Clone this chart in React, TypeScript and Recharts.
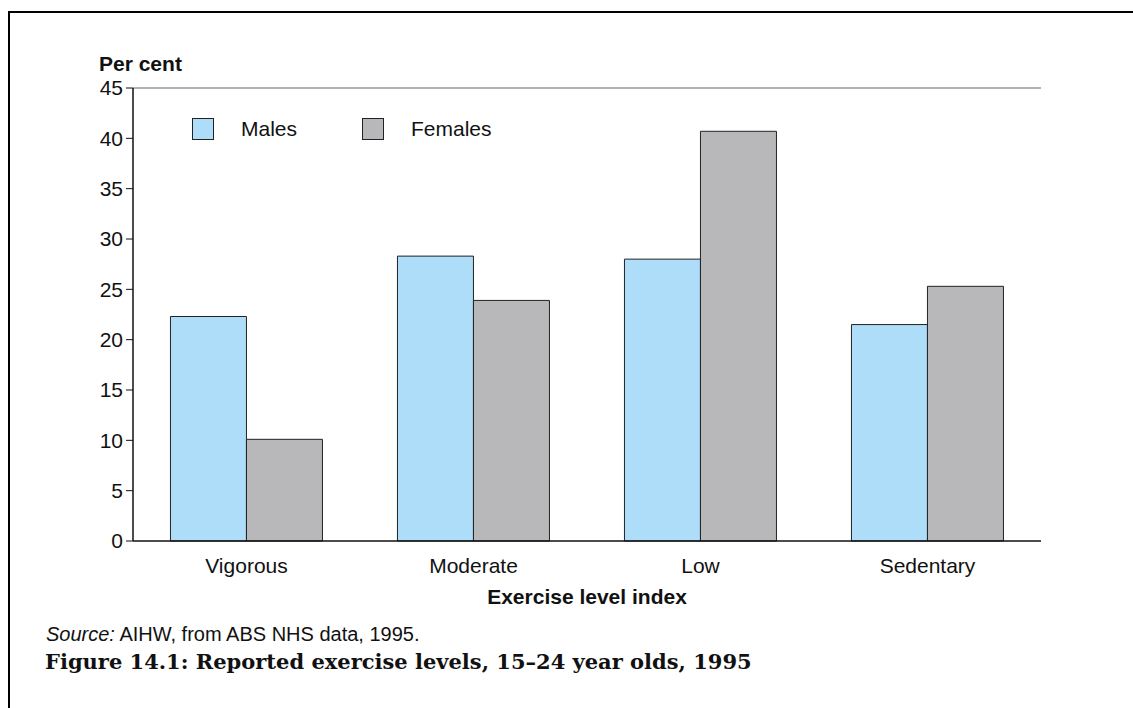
import React from "react";
import { BarChart, Bar, XAxis, YAxis, ReferenceLine } from "recharts";

const categories = ["Vigorous", "Moderate", "Low", "Sedentary"];
const males = [22.3, 28.3, 28.0, 21.5];
const females = [10.1, 23.9, 40.7, 25.3];
const yTicks = [0, 5, 10, 15, 20, 25, 30, 35, 40, 45];
const seriesNames = ["Males", "Females"];
const seriesColors = ["#AEDDF9", "#B8B8BA"];

const data = categories.map((c, i) => ({ name: c, Males: males[i], Females: females[i] }));

const SANS = "'Liberation Sans', Arial, sans-serif";

export default function App() {
  return (
    <div style={{ position: "absolute", left: 0, top: 0, width: 1133, height: 708, background: "#fff", overflow: "hidden" }}>
      <div style={{ position: "absolute", left: 8, top: 11, width: 1125, height: 697, borderLeft: "2px solid #000", borderTop: "2px solid #000" }} />
      <BarChart
        width={1133}
        height={708}
        data={data}
        margin={{ top: 88, right: 92, bottom: 137, left: 73 }}
        barCategoryGap="16.5%"
        barGap={0}
      >
        <XAxis
          dataKey="name"
          height={30}
          tickLine={false}
          axisLine={{ stroke: "#111", strokeWidth: 1.5 }}
          tick={{ fontFamily: SANS, fontSize: 21, fill: "#111" }}
          tickMargin={11}
        />
        <YAxis
          width={60}
          domain={[0, 45]}
          ticks={yTicks}
          interval={0}
          axisLine={{ stroke: "#111", strokeWidth: 1.5 }}
          tickLine={{ stroke: "#111" }}
          tickSize={7}
          tickMargin={3}
          tick={{ fontFamily: SANS, fontSize: 21, fill: "#111" }}
        />
        <YAxis
          yAxisId="r"
          orientation="right"
          width={0}
          domain={[0, 45]}
          tick={false}
          tickLine={false}
          axisLine={{ stroke: "#444", strokeWidth: 1.5 }}
        />
        <ReferenceLine y={45} stroke="#999" strokeWidth={1.5} />
        <Bar dataKey="Males" fill={seriesColors[0]} stroke="#222" strokeWidth={1} isAnimationActive={false} />
        <Bar dataKey="Females" fill={seriesColors[1]} stroke="#222" strokeWidth={1} isAnimationActive={false} />
      </BarChart>
      <div style={{ position: "absolute", left: 192, top: 118, fontFamily: SANS, fontSize: 21, color: "#111" }}>
        {seriesNames.map((n, i) => (
          <div key={n} style={{ position: "absolute", left: i * 170, top: 0, display: "flex", alignItems: "center", height: 22, whiteSpace: "nowrap" }}>
            <div style={{ width: 20, height: 20, background: seriesColors[i], border: "1px solid #222" }} />
            <span style={{ marginLeft: 27 }}>{n}</span>
          </div>
        ))}
      </div>
      <div style={{ position: "absolute", left: 99, top: 52, fontFamily: SANS, fontSize: 21, fontWeight: "bold", color: "#111" }}>Per cent</div>
      <div style={{ position: "absolute", left: 587, top: 585, transform: "translateX(-50%)", whiteSpace: "nowrap", fontFamily: SANS, fontSize: 21, fontWeight: "bold", color: "#111" }}>Exercise level index</div>
      <div style={{ position: "absolute", left: 46, top: 623, fontFamily: SANS, fontSize: 20, color: "#111", whiteSpace: "nowrap" }}>
        <i>Source:</i> AIHW, from ABS NHS data, 1995.
      </div>
      <div style={{ position: "absolute", left: 45, top: 649, fontFamily: "'DejaVu Serif', serif", fontSize: 21, fontWeight: "bold", color: "#111", whiteSpace: "nowrap" }}>
        Figure 14.1: Reported exercise levels, 15–24 year olds, 1995
      </div>
    </div>
  );
}
